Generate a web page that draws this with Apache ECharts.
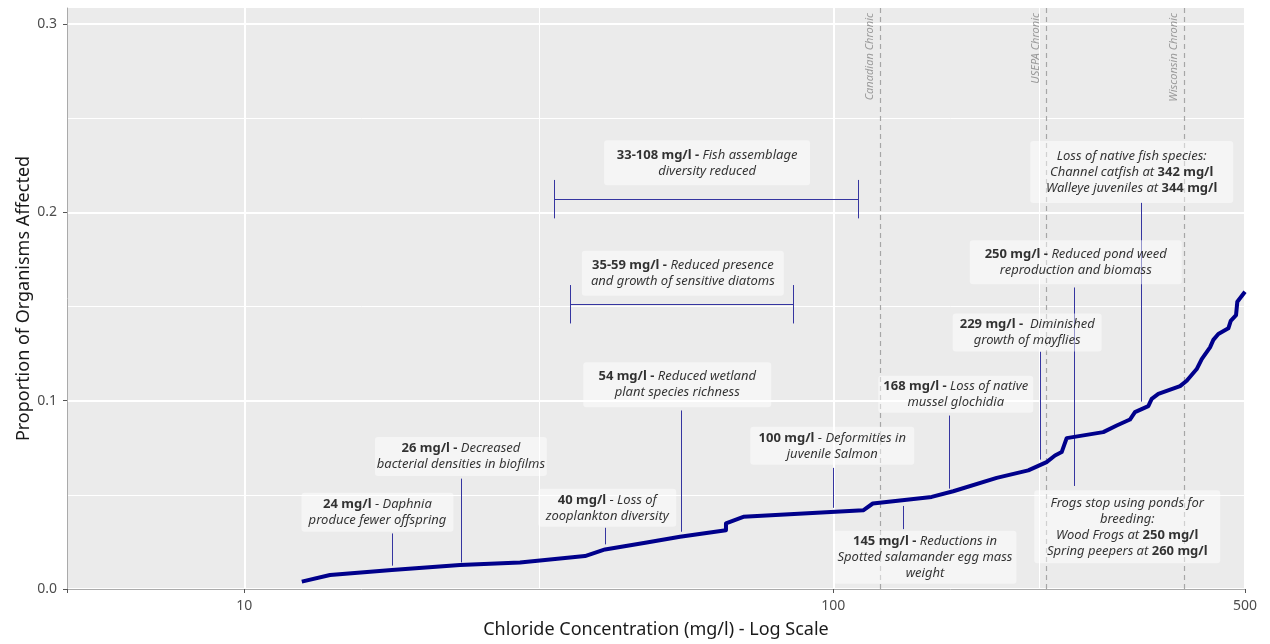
<!DOCTYPE html>
<html>
<head>
<meta charset="utf-8">
<script src="https://cdn.jsdelivr.net/npm/echarts@6/dist/echarts.min.js"></script>
<style>
  html, body { margin: 0; padding: 0; background: #ffffff; }
  #chart { width: 1270px; height: 644px; }
</style>
</head>
<body>
<div id="chart"></div>
<script>
// ---- Data ----
const curveX = [12.52, 13.98, 17.80, 23.24, 29.38, 37.88, 40.97, 48.23, 54.92, 65.73, 65.73, 70.35,
  112.4, 116.7, 146.9, 159.8, 189.4, 214.3, 230.2, 237.9, 244.2, 249.0, 287.3, 302.8, 318.9, 325.2,
  342.6, 347.2, 356.3, 387.9, 398.1, 414.0, 422.2, 436.1, 441.8, 450.5, 468.5, 472.9, 482.8, 485.2, 500];
const curveY = [0.0039, 0.0074, 0.0101, 0.0127, 0.0141, 0.0175, 0.0210, 0.0247, 0.0277, 0.0312, 0.0348, 0.0383,
  0.0418, 0.0454, 0.0489, 0.0519, 0.0590, 0.0630, 0.0674, 0.0709, 0.0727, 0.0801, 0.0833, 0.0868, 0.0900, 0.0939,
  0.0971, 0.1010, 0.1036, 0.1077, 0.1106, 0.1168, 0.1221, 0.1283, 0.1323, 0.1354, 0.1384, 0.1424, 0.1454, 0.1525, 0.1578];

const criteriaValues = [120, 230, 395];
const criteriaNames = ['Canadian Chronic', 'USEPA Chronic', 'Wisconsin Chronic'];

const yTickValues = [0, 0.1, 0.2, 0.3];
const xLabelValues = [10, 100, 500];
const xMinorGrid = [31.62, 223.6];

const annX = [16.83, 23.32, 41.32, 54.33, 99.6, 161.4, 143.1, 213.4, 258.0, 315.5, 321.1, 61.05, 55.53];
const annY = [0.0408, 0.0704, 0.0431, 0.1085, 0.0760, 0.1034, 0.0169, 0.1362, 0.1735, 0.0330, 0.2214, 0.2263, 0.1676];
const annText = [
  '{b|24 mg/l} {n|-} {i|Daphnia}\n{i|produce fewer offspring}',
  '{b|26 mg/l -} {i|Decreased}\n{i|bacterial densities in biofilms}',
  '{b|40 mg/l} {n|-} {i|Loss of}\n{i|zooplankton diversity}',
  '{b|54 mg/l -} {i|Reduced wetland}\n{i|plant species richness}',
  '{b|100 mg/l} {n|-} {i|Deformities in}\n{i|juvenile Salmon}',
  '{b|168 mg/l -} {i|Loss of native}\n{i|mussel glochidia}',
  '{b|145 mg/l -} {i|Reductions in}\n{i|Spotted salamander egg mass}\n{i|weight}',
  '{b|229 mg/l -}  {i|Diminished}\n{i|growth of mayflies}',
  '{b|250 mg/l -} {i|Reduced pond weed}\n{i|reproduction and biomass}',
  '{i|Frogs stop using ponds for}\n{i|breeding:}\n{i|Wood Frogs at }{b|250 mg/l}\n{i|Spring peepers at }{b|260 mg/l}',
  '{i|Loss of native fish species:}\n{i|Channel catfish at }{b|342 mg/l}\n{i|Walleye juveniles at }{b|344 mg/l}',
  '{b|33-108 mg/l -} {i|Fish assemblage}\n{i|diversity reduced}',
  '{b|35-59 mg/l -} {i|Reduced presence}\n{i|and growth of sensitive diatoms}'
];

const leaderX  = [17.80, 23.34, 40.97, 55.28, 100, 157.4, 131.5, 224.7, 256.6, 333.9];
const leaderY1 = [0.0295, 0.0586, 0.0325, 0.0948, 0.0643, 0.0921, 0.0441, 0.1260, 0.1601, 0.2051];
const leaderY2 = [0.0124, 0.0141, 0.0237, 0.0304, 0.0431, 0.0533, 0.0318, 0.0687, 0.0547, 0.0995];

const rangeLow  = [33.6, 35.8];
const rangeHigh = [110.3, 85.5];
const rangeY    = [0.2070, 0.1512];

// ---- Styling (box sizes in px, matching each label box) ----
const boxWidthPx  = [152, 172, 138, 188, 164, 155, 183, 149, 212, 186, 203, 206, 202];
const boxHeightPx = [39, 39, 38, 45, 38, 37, 53, 38, 44, 73, 62, 45, 45];

const FONT = 'Noto Sans';
const chart = echarts.init(document.getElementById('chart'), null, { renderer: 'canvas' });

const leaderColor = '#3535A0';
const capHalf = 0.0102;
const LINE_H = 16, PAD_X = 7;

const leaderLines = leaderX.map((x, i) => [
  { coord: [x, leaderY1[i]] }, { coord: [x, leaderY2[i]] }
]);
const rangeLines = [];
rangeLow.forEach((lo, i) => {
  const hi = rangeHigh[i], y = rangeY[i];
  rangeLines.push([{ coord: [lo, y] }, { coord: [hi, y] }]);
  rangeLines.push([{ coord: [lo, y - capHalf] }, { coord: [lo, y + capHalf] }]);
  rangeLines.push([{ coord: [hi, y - capHalf] }, { coord: [hi, y + capHalf] }]);
});

const richBase = { fontSize: 13, lineHeight: LINE_H, color: '#000', align: 'center', fontFamily: FONT };

const annData = annX.map((x, i) => {
  const nLines = annText[i].split('\n').length;
  const padY = Math.max(2, (boxHeightPx[i] - nLines * LINE_H) / 2);
  return {
    value: [x, annY[i]],
    label: { width: boxWidthPx[i] - 2 * PAD_X, padding: [padY, PAD_X] }
  };
});

const option = {
  animation: false,
  textStyle: { fontFamily: FONT },
  grid: {
    left: 67, top: 8, right: 25, bottom: 53,
    show: true, backgroundColor: '#EBEBEB', borderWidth: 0
  },
  xAxis: {
    type: 'log', logBase: 10, min: 5, max: 500,
    name: 'Chloride Concentration (mg/l) - Log Scale',
    nameLocation: 'middle', nameGap: 32, nameMoveOverlap: false,
    nameTextStyle: { fontSize: 18, color: '#1a1a1a', fontFamily: FONT },
    axisLine: { show: true, lineStyle: { color: '#AAAAAA', width: 1 } },
    axisTick: { show: true, length: 4, lineStyle: { color: '#555555' } },
    axisLabel: {
      fontSize: 14, color: '#4D4D4D', margin: 10, fontFamily: FONT,
      formatter: v => (xLabelValues.some(t => Math.abs(t - v) < 1e-6) ? String(Math.round(v)) : '')
    },
    splitLine: { show: true, lineStyle: { color: '#FFFFFF', width: 2 } },
    minorTick: { show: false }, minorSplitLine: { show: false }
  },
  yAxis: {
    type: 'value', min: 0, max: 0.3085, interval: 0.1,
    name: 'Proportion of Organisms Affected',
    nameLocation: 'middle', nameGap: 34, nameMoveOverlap: false,
    nameTextStyle: { fontSize: 18, color: '#1a1a1a', fontFamily: FONT },
    axisLine: { show: true, lineStyle: { color: '#AAAAAA', width: 1 } },
    axisTick: { show: true, length: 4, lineStyle: { color: '#555555' }, customValues: yTickValues },
    axisLabel: {
      fontSize: 14, color: '#4D4D4D', margin: 10, fontFamily: FONT, customValues: yTickValues,
      formatter: v => (yTickValues.some(t => Math.abs(t - v) < 1e-9) ? v.toFixed(1) : '')
    },
    splitLine: { show: true, lineStyle: { color: '#FFFFFF', width: 2 } },
    minorTick: { show: false, splitNumber: 2 },
    minorSplitLine: { show: true, lineStyle: { color: '#FFFFFF', width: 1 } }
  },
  series: [
    {
      type: 'line', data: [], z: 1, silent: true,
      markLine: {
        silent: true, symbol: 'none', animation: false,
        data: xMinorGrid.map(v => ({
          xAxis: v, label: { show: false },
          lineStyle: { color: '#FFFFFF', width: 1, type: 'solid' }
        })).concat(criteriaValues.map((v, i) => [
          { coord: [v, 0], name: criteriaNames[i] },
          { coord: [v, 0.3085] }
        ]).map(pair => {
          pair[0].lineStyle = { color: '#A6A6A6', width: 1.2, type: [5, 4] };
          pair[0].label = {
            show: true, position: 'insideEndTop', formatter: '{b}',
            color: '#9A9A9A', fontSize: 11, fontStyle: 'italic', fontFamily: FONT, distance: 5
          };
          return pair;
        }))
      }
    },
    {
      type: 'line', data: [], z: 3, silent: true,
      markLine: {
        silent: true, symbol: 'none', animation: false,
        label: { show: false },
        lineStyle: { color: leaderColor, width: 1, type: 'solid', opacity: 1 },
        data: leaderLines.concat(rangeLines)
      }
    },
    {
      type: 'line', z: 5, silent: true,
      data: curveX.map((x, i) => [x, curveY[i]]),
      showSymbol: false, symbol: 'none',
      lineStyle: { color: '#00008B', width: 4, join: 'round' },
      clip: true
    },
    {
      type: 'scatter', z: 6, silent: true,
      symbolSize: 1, itemStyle: { color: 'rgba(0,0,0,0)' },
      data: annData,
      label: {
        show: true, position: 'inside',
        formatter: p => annText[p.dataIndex],
        backgroundColor: 'rgba(255,255,255,0.6)', borderRadius: 3, padding: [4, PAD_X],
        color: '#000', fontSize: 13, lineHeight: LINE_H, align: 'center', verticalAlign: 'middle',
        fontFamily: FONT, overflow: 'none',
        rich: {
          b: Object.assign({ fontWeight: 'bold' }, richBase),
          i: Object.assign({ fontStyle: 'italic' }, richBase),
          n: Object.assign({}, richBase)
        }
      },
      labelLayout: { hideOverlap: false }
    }
  ]
};
chart.setOption(option);
</script>
</body>
</html>
